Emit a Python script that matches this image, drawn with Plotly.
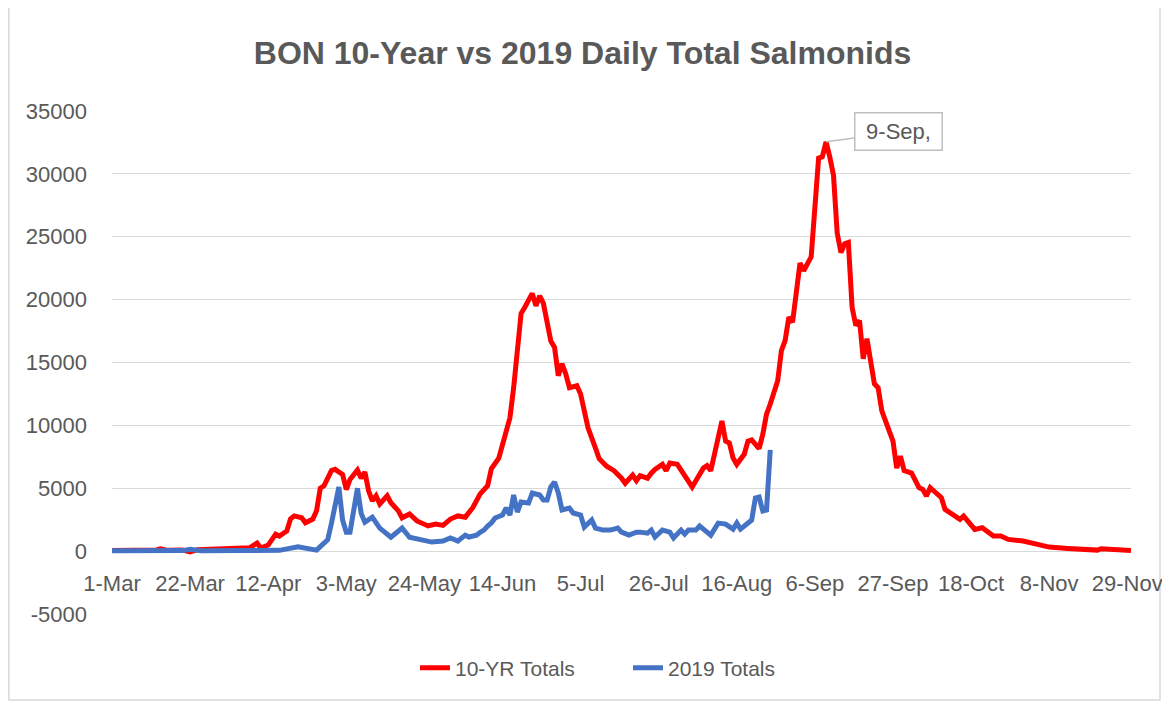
import plotly.graph_objects as go

# ---- data ----
red_dates = [
    "2019-03-01","2019-03-05","2019-03-09","2019-03-13","2019-03-14","2019-03-16","2019-03-20","2019-03-22",
    "2019-03-24","2019-03-28","2019-04-01","2019-04-04","2019-04-07","2019-04-09","2019-04-10","2019-04-12",
    "2019-04-14","2019-04-15","2019-04-17","2019-04-18","2019-04-19","2019-04-21","2019-04-22","2019-04-24",
    "2019-04-25","2019-04-26","2019-04-27","2019-04-29","2019-04-30","2019-05-02","2019-05-03","2019-05-04",
    "2019-05-06","2019-05-07","2019-05-08","2019-05-09","2019-05-10","2019-05-11","2019-05-12","2019-05-14",
    "2019-05-15","2019-05-17","2019-05-18","2019-05-20","2019-05-22","2019-05-25","2019-05-27","2019-05-29",
    "2019-05-31","2019-06-02","2019-06-04","2019-06-06","2019-06-08","2019-06-10","2019-06-11","2019-06-13",
    "2019-06-14","2019-06-15","2019-06-16","2019-06-17","2019-06-18","2019-06-19","2019-06-20","2019-06-22",
    "2019-06-23","2019-06-24","2019-06-25","2019-06-27","2019-06-28","2019-06-29","2019-06-30","2019-07-01",
    "2019-07-02","2019-07-04","2019-07-05","2019-07-06","2019-07-07","2019-07-09","2019-07-10","2019-07-12",
    "2019-07-14","2019-07-16","2019-07-17","2019-07-19","2019-07-20","2019-07-21","2019-07-23","2019-07-24",
    "2019-07-25","2019-07-27","2019-07-28","2019-07-29","2019-07-31","2019-08-02","2019-08-04","2019-08-05",
    "2019-08-07","2019-08-08","2019-08-09","2019-08-10","2019-08-11","2019-08-12","2019-08-13","2019-08-14",
    "2019-08-15","2019-08-16","2019-08-18","2019-08-19","2019-08-20","2019-08-22","2019-08-23","2019-08-24",
    "2019-08-25","2019-08-27","2019-08-28","2019-08-29","2019-08-30","2019-08-31","2019-09-02","2019-09-03",
    "2019-09-05","2019-09-07","2019-09-08","2019-09-09","2019-09-10","2019-09-11","2019-09-12","2019-09-13",
    "2019-09-14","2019-09-15","2019-09-16","2019-09-17","2019-09-18","2019-09-19","2019-09-20","2019-09-21",
    "2019-09-22","2019-09-23","2019-09-24","2019-09-26","2019-09-27","2019-09-28","2019-09-29","2019-09-30",
    "2019-10-02","2019-10-04","2019-10-05","2019-10-06","2019-10-07","2019-10-08","2019-10-10","2019-10-11",
    "2019-10-13","2019-10-15","2019-10-16","2019-10-17","2019-10-19","2019-10-21","2019-10-23","2019-10-24",
    "2019-10-26","2019-10-28","2019-11-01","2019-11-04","2019-11-08","2019-11-13","2019-11-17","2019-11-21",
    "2019-11-22","2019-11-26","2019-11-30",
]
red_vals = [
    40, 60, 50, 90, 180, 60, 80, -60,
    120, 150, 170, 160, 260, 640, 240, 480,
    1350, 1200, 1600, 2550, 2800, 2650, 2250, 2550,
    3200, 5000, 5200, 6400, 6500, 6100, 4900, 5700,
    6450, 5800, 6300, 4800, 4000, 4400, 3750, 4400,
    3850, 3200, 2650, 2950, 2400, 2000, 2150, 2050,
    2550, 2800, 2700, 3450, 4550, 5200, 6550, 7400,
    8500, 9800, 10600, 13000, 15700, 18900, 19400, 20500,
    19500, 20300, 19700, 16700, 16200, 13950, 14900, 14100,
    13000, 13150, 12500, 10900, 9800, 8200, 7350, 6750,
    6400, 5800, 5400, 6050, 5600, 6000, 5800, 6200,
    6500, 6900, 6400, 7000, 6900, 6000, 5100, 5600,
    6600, 6800, 6400, 7700, 9200, 10350, 8750, 8600,
    7400, 6900, 7700, 8750, 8850, 8150, 9300, 10900,
    11700, 13550, 15950, 16750, 18600, 18200, 22900, 22300,
    23400, 31250, 31350, 32550, 31350, 29900, 25300, 23750,
    24450, 24550, 19400, 17950, 18350, 15300, 16900, 15150,
    13300, 13000, 11150, 9550, 8750, 6600, 7550, 6400,
    6200, 5050, 4900, 4380, 5050, 4780, 4250, 3320,
    2920, 2520, 2790, 2390, 1730, 1860, 1460, 1200,
    1200, 930, 800, 610, 320, 210, 190, 80,
    190, 80, 50,
]

blue_dates = [
    "2019-03-01","2019-03-10","2019-03-20","2019-03-22","2019-03-25","2019-04-05","2019-04-15","2019-04-20",
    "2019-04-25","2019-04-26","2019-04-28","2019-04-29","2019-05-01","2019-05-02","2019-05-03","2019-05-04",
    "2019-05-06","2019-05-07","2019-05-08","2019-05-10","2019-05-11","2019-05-12","2019-05-15","2019-05-17",
    "2019-05-18","2019-05-20","2019-05-22","2019-05-26","2019-05-29","2019-05-31","2019-06-02","2019-06-04",
    "2019-06-05","2019-06-07","2019-06-08","2019-06-09","2019-06-10","2019-06-11","2019-06-12","2019-06-14",
    "2019-06-15","2019-06-16","2019-06-17","2019-06-18","2019-06-19","2019-06-21","2019-06-22","2019-06-24",
    "2019-06-25","2019-06-26","2019-06-27","2019-06-28","2019-06-29","2019-06-30","2019-07-02","2019-07-03",
    "2019-07-05","2019-07-06","2019-07-08","2019-07-09","2019-07-11","2019-07-13","2019-07-15","2019-07-16",
    "2019-07-18","2019-07-20","2019-07-21","2019-07-23","2019-07-24","2019-07-25","2019-07-27","2019-07-29",
    "2019-07-30","2019-08-01","2019-08-02","2019-08-03","2019-08-05","2019-08-06","2019-08-08","2019-08-09",
    "2019-08-11","2019-08-13","2019-08-15","2019-08-16","2019-08-17","2019-08-19","2019-08-20","2019-08-21",
    "2019-08-22","2019-08-23","2019-08-24","2019-08-25",
]
blue_vals = [
    30, 20, 40, 150, 30, 40, 60, 350,
    80, 350, 900, 2200, 5100, 2470, 1500, 1500,
    5000, 3000, 2300, 2700, 2230, 1830, 1100, 1670,
    1830, 1100, 950, 720, 800, 1040, 800, 1270,
    1120, 1270, 1500, 1670, 2000, 2230, 2630, 2870,
    3430, 2870, 4460, 3110, 3900, 3820, 4620, 4460,
    4060, 4060, 5100, 5500, 4620, 3270, 3430, 3030,
    2870, 1910, 2470, 1830, 1670, 1670, 1830, 1510,
    1270, 1510, 1510, 1430, 1670, 1120, 1670, 1510,
    1040, 1670, 1350, 1670, 1670, 2000, 1510, 1270,
    2230, 2150, 1750, 2230, 1750, 2230, 2470, 4230,
    4300, 3190, 3270, 8050,
]

series_names = ["10-YR Totals", "2019 Totals"]
y_ticks = [-5000, 0, 5000, 10000, 15000, 20000, 25000, 30000, 35000]
y_tick_labels = ["-5000", "0", "5000", "10000", "15000", "20000", "25000", "30000", "35000"]
peak_label = "9-Sep,"
peak_date = "2019-09-09"
peak_value = 32550
title_text = "BON 10-Year vs 2019 Daily Total Salmonids"

# ---- figure (page body has an 8px margin, so the figure is 8px smaller and shifted) ----
W, H = 1162, 697
ML, MR, MT, MB = 104, 39, 103, 91
PW, PH = W - ML - MR, H - MT - MB
GRAY = "#595959"
FONT = "Liberation Sans"

fig = go.Figure()
fig.add_trace(go.Scatter(x=red_dates, y=red_vals, mode="lines", name=series_names[0],
                         line=dict(color="#FF0000", width=5)))
fig.add_trace(go.Scatter(x=blue_dates, y=blue_vals, mode="lines", name=series_names[1],
                         line=dict(color="#4472C4", width=5)))

fig.add_annotation(x=peak_date, y=peak_value, text=peak_label, showarrow=True,
                   ax=72, ay=-10, arrowhead=0, arrowwidth=1.5, arrowcolor="#BFBFBF",
                   bordercolor="#BFBFBF", borderwidth=1.5, borderpad=5, bgcolor="white",
                   width=76, height=26, valign="middle",
                   font=dict(family=FONT, size=22, color=GRAY))

# outer chart border
fig.add_shape(type="rect", xref="paper", yref="paper",
              x0=(0.8 - ML) / PW, x1=(1152 - ML) / PW,
              y0=(H - MB - 692) / PH, y1=(H - MB + 10) / PH,
              line=dict(color="#D9D9D9", width=1.5), fillcolor="rgba(0,0,0,0)", layer="below")

fig.update_layout(
    width=W, height=H,
    margin=dict(l=ML, r=MR, t=MT, b=MB, autoexpand=False),
    paper_bgcolor="white", plot_bgcolor="white",
    title=dict(text="<b>" + title_text + "</b>", xref="container", yref="container",
               x=574.5 / W, y=1 - 45 / H, xanchor="center", yanchor="middle",
               font=dict(family=FONT, size=32, color=GRAY)),
    legend=dict(orientation="h", xref="container", yref="container",
                x=620 / W, y=1 - 660 / H, xanchor="center", yanchor="middle",
                font=dict(family=FONT, size=21, color=GRAY),
                entrywidth=168, entrywidthmode="pixels"),
    showlegend=True,
)
fig.update_xaxes(range=["2019-03-01", "2019-11-30"], type="date",
                 tick0="2019-03-01", dtick=21 * 86400000, tickformat="%-d-%b",
                 tickangle=0, ticks="", showgrid=False, showline=False, zeroline=False,
                 anchor="free", position=5000 / 40000, ticklabelstandoff=17,
                 tickfont=dict(family=FONT, size=22, color=GRAY))
fig.update_yaxes(range=[-5000, 35000], tickvals=y_ticks, ticktext=y_tick_labels, showgrid=True,
                 gridcolor="#D9D9D9", gridwidth=1.3, zeroline=True, zerolinecolor="#D9D9D9",
                 zerolinewidth=1.3, showline=False, ticks="", ticklabelstandoff=24,
                 tickfont=dict(family=FONT, size=22, color=GRAY))

fig.write_html("out.html")
